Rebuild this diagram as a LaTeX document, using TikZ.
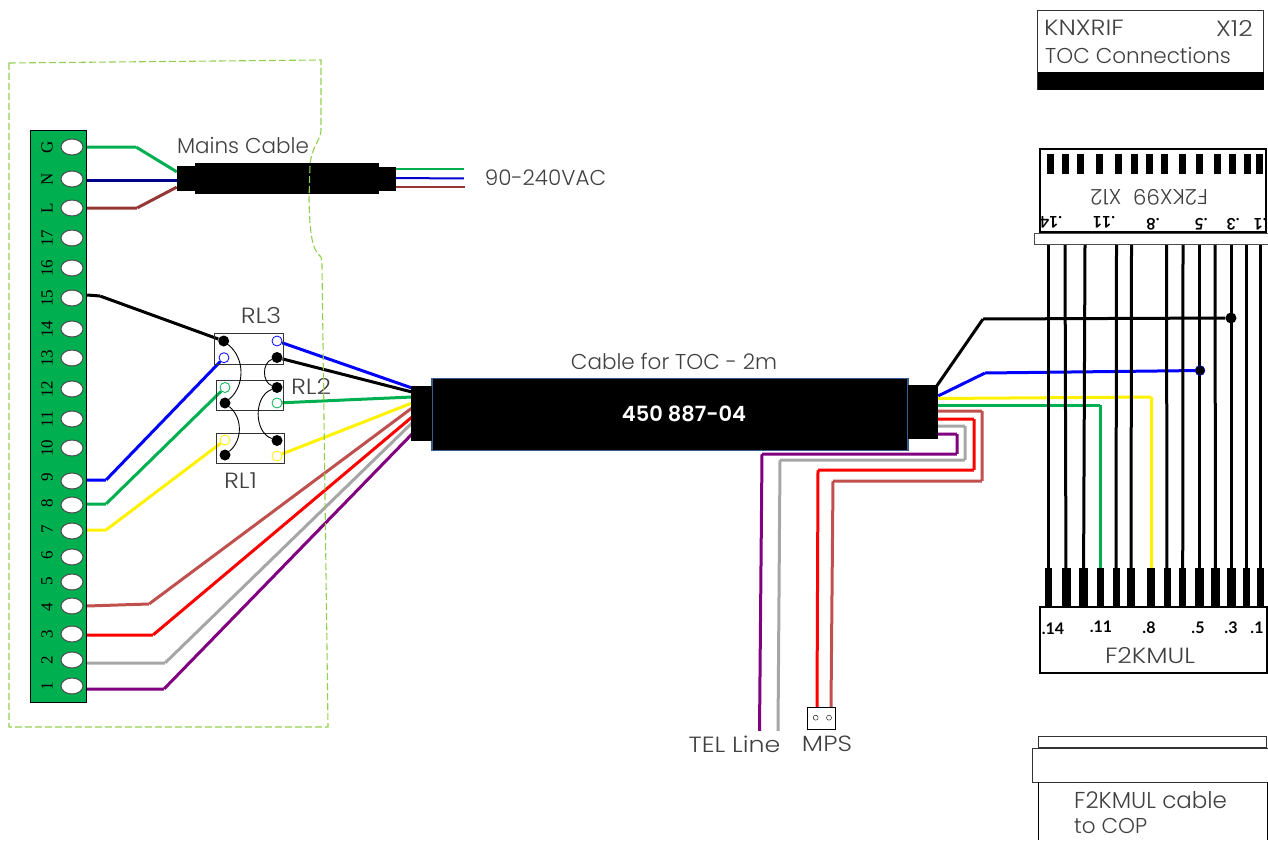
\documentclass[tikz,border=0pt]{standalone}
\usepackage{fontspec}
\setmainfont{Poppins Light}
\newfontfamily\capfont[FakeStretch=1.15]{Poppins Light}
\newfontfamily\termfont{Liberation Serif}
\newfontfamily\pinfont{Lato}
\usepackage{tikz}
\usetikzlibrary{shapes.geometric}
\pgfdeclarelayer{bg}
\pgfsetlayers{bg,main}
\definecolor{stripgreen}{HTML}{00B050}
\definecolor{wirebrown}{HTML}{953735}
\definecolor{wirerose}{HTML}{C0504D}
\definecolor{wirepurple}{HTML}{800080}
\definecolor{wiregray}{HTML}{A6A6A6}
\definecolor{outline}{HTML}{92D050}
\definecolor{sleeve}{HTML}{385D8A}
\definecolor{labelgray}{HTML}{404040}
\tikzset{empty/.style={draw=none, fill=none, minimum size=0mm, inner sep=0mm}}
\tikzset{hole/.style={draw=black!70, fill=white, ellipse, minimum width=22pt, minimum height=16pt, inner sep=0pt, line width=1pt}}
\tikzset{tnum/.style={rotate=90, inner sep=0pt, font=\termfont\fontsize{17}{17}\selectfont}}
\tikzset{txt/.style={inner sep=0pt, text=labelgray, font=\fontsize{21.5}{21.5}\selectfont}}
\tikzset{captxt/.style={inner sep=0pt, text=labelgray, font=\capfont\fontsize{22}{22}\selectfont}}
\tikzset{pinno/.style={inner sep=0pt, font=\pinfont\bfseries\fontsize{16}{16}\selectfont}}
\tikzset{wire/.style={line width=3pt}}
\tikzset{thinwire/.style={line width=2pt}}
\tikzset{pinblack/.style={circle, fill=black, minimum size=11pt, inner sep=0pt}}
\tikzset{pinopen/.style={circle, draw, fill=white, minimum size=10pt, inner sep=0pt, line width=0.8pt}}
\tikzset{relaybox/.style={draw=black!80, line width=1pt}}
\tikzset{blackpart/.style={fill=black}}
\tikzset{jack/.style={rectangle, fill=black, inner sep=0pt, minimum width=7pt}}

\begin{document}
\begin{tikzpicture}[x=1pt, y=-1pt]
    \useasboundingbox (0,0) rectangle (1268,840);

    % terminal strip
    \draw [fill=stripgreen, line width=1pt] (30.5,131) rectangle (86.5,702);
    \node (tG) at (72,147) [hole] {}; \node (nG) at (47,147) [tnum] {G};
    \node (tN) at (72,179) [hole] {}; \node (nN) at (47,179) [tnum] {N};
    \node (tL) at (72,208) [hole] {}; \node (nL) at (47,208) [tnum] {L};
    \node (t17) at (72,238) [hole] {}; \node (n17) at (47,238) [tnum] {17};
    \node (t16) at (72,268) [hole] {}; \node (n16) at (47,268) [tnum] {16};
    \node (t15) at (72,298) [hole] {}; \node (n15) at (47,298) [tnum] {15};
    \node (t14) at (72,329) [hole] {}; \node (n14) at (47,329) [tnum] {14};
    \node (t13) at (72,358) [hole] {}; \node (n13) at (47,358) [tnum] {13};
    \node (t12) at (72,389) [hole] {}; \node (n12) at (47,389) [tnum] {12};
    \node (t11) at (72,419) [hole] {}; \node (n11) at (47,419) [tnum] {11};
    \node (t10) at (72,448) [hole] {}; \node (n10) at (47,448) [tnum] {10};
    \node (t9) at (72,481) [hole] {}; \node (n9) at (47,477) [tnum] {9};
    \node (t8) at (72,505) [hole] {}; \node (n8) at (47,503) [tnum] {8};
    \node (t7) at (72,531) [hole] {}; \node (n7) at (47,529) [tnum] {7};
    \node (t6) at (72,557) [hole] {}; \node (n6) at (47,555) [tnum] {6};
    \node (t5) at (72,582) [hole] {}; \node (n5) at (47,581) [tnum] {5};
    \node (t4) at (72,606) [hole] {}; \node (n4) at (47,607) [tnum] {4};
    \node (t3) at (72,634) [hole] {}; \node (n3) at (47,634) [tnum] {3};
    \node (t2) at (72,660) [hole] {}; \node (n2) at (47,660) [tnum] {2};
    \node (t1) at (72,686) [hole] {}; \node (n1) at (47,686) [tnum] {1};

    % mains cable
    \node (lmains) at (243,146) [txt] {Mains Cable};
    \node (l90) at (545.5,178) [txt] {90-240VAC};
    \fill [blackpart] (177,166) rectangle (195,191);
    \fill [blackpart] (195,163) rectangle (379,194);
    \fill [blackpart] (379,167) rectangle (396,191);
    \node (mG) [empty] at (177,172) {};
    \node (mN) [empty] at (177,180) {};
    \node (mL) [empty] at (177,187) {};
    \node (oG) [empty] at (395,169) {};
    \node (oN) [empty] at (395,178) {};
    \node (oL) [empty] at (395,187) {};
    \node (eG) [empty] at (464,169) {};
    \node (eN) [empty] at (464,178.5) {};
    \node (eL) [empty] at (465,187) {};
    \node (sG) [empty] at (87,147) {};
    \node (sN) [empty] at (87,180) {};
    \node (sL) [empty] at (87,208) {};
    \node (kG) [empty] at (136,147) {};
    \node (kL) [empty] at (137,208) {};

    % relays
    \node (lRL3) at (261,316) [captxt] {RL3};
    \node (lRL2) at (311,386) [captxt] {RL2};
    \node (lRL1) at (240.5,481) [captxt] {RL1};
    \draw [relaybox] (214.7,333) rectangle (283,364);
    \draw [relaybox] (216,380.7) rectangle (283.7,410);
    \draw [relaybox] (216.7,433.7) rectangle (284.3,463.3);
    \node (r3a) at (223.7,341) [pinblack] {};
    \node (r3b) at (224,357.7) [pinopen, draw=blue] {};
    \node (r3c) at (277,341) [pinopen, draw=blue] {};
    \node (r3d) at (277,357.5) [pinblack] {};
    \node (r2a) at (225,387.5) [pinopen, draw=stripgreen] {};
    \node (r2b) at (225,403) [pinblack] {};
    \node (r2c) at (277,387.5) [pinblack] {};
    \node (r2d) at (277,403) [pinopen, draw=stripgreen] {};
    \node (r1a) at (225,440) [pinopen, draw=yellow] {};
    \node (r1b) at (225,455) [pinblack] {};
    \node (r1c) at (277,440.5) [pinblack] {};
    \node (r1d) at (277,456) [pinopen, draw=yellow] {};
    \draw [line width=0.9pt] (r3a) edge [bend left=50] (r2b);
    \draw [line width=0.9pt] (r2b) edge [bend left=50] (r1b);
    \draw [line width=0.9pt] (r3d) edge [bend right=70] (r2c);
    \draw [line width=0.9pt] (r2c) edge [bend right=70] (r1c);

    % cable for TOC
    \node (lcable) at (674,361) [txt] {Cable for TOC - 2m};
    \draw [blackpart, draw=sleeve, line width=1.5pt] (432,378.5) rectangle (908,450.5);
    \fill [blackpart] (411,386) rectangle (432,441);
    \fill [blackpart] (908,385) rectangle (938,439);
    \node (lpart) at (684,414) [inner sep=0pt, text=white, font=\fontsize{21}{21}\selectfont\bfseries] {450 887-04};

    \node (s15) [empty] at (87,295) {};
    \node (k15) [empty] at (100,296) {};
    \node (s9) [empty] at (87,480) {};
    \node (k9) [empty] at (106,480) {};
    \node (s8) [empty] at (87,504) {};
    \node (k8) [empty] at (106,504) {};
    \node (s7) [empty] at (87,530) {};
    \node (k7) [empty] at (106,530) {};
    \node (s4) [empty] at (87,606) {};
    \node (k4) [empty] at (149,604) {};
    \node (s3) [empty] at (87,635) {};
    \node (k3) [empty] at (153,635) {};
    \node (s2) [empty] at (87,663) {};
    \node (k2) [empty] at (165,663) {};
    \node (s1) [empty] at (87,689) {};
    \node (k1) [empty] at (164,689) {};
    \node (c1) [empty] at (412,388) {};
    \node (c2) [empty] at (412,392) {};
    \node (c3) [empty] at (412,397) {};
    \node (c4) [empty] at (412,403) {};
    \node (c5) [empty] at (412,408) {};
    \node (c6) [empty] at (412,417) {};
    \node (c7) [empty] at (412,423) {};
    \node (c8) [empty] at (412,434) {};

    % wires going to the right
    \node (d1) [empty] at (936,387) {};
    \node (d2) [empty] at (983,319) {};
    \node (dot1) at (1231,318) [circle, fill=black, minimum size=11pt, inner sep=0pt] {};
    \node (d3) [empty] at (938,396) {};
    \node (d4) [empty] at (985,373) {};
    \node (dot2) at (1200,370.5) [circle, draw=blue, fill=black, minimum size=10pt, inner sep=0pt] {};
    \node (d5) [empty] at (938,398.5) {};
    \node (d6) [empty] at (1151.5,397) {};
    \node (d7) [empty] at (1151.5,570) {};
    \node (d8) [empty] at (938,405) {};
    \node (d9) [empty] at (1100.5,405) {};
    \node (d10) [empty] at (1100.5,570) {};

    % wires going down
    \node (m1) [empty] at (938,411) {};
    \node (m2) [empty] at (982,411) {};
    \node (m3) [empty] at (982,481) {};
    \node (m4) [empty] at (833,481) {};
    \node (m5) [empty] at (831,707) {};
    \node (m6) [empty] at (938,419) {};
    \node (m7) [empty] at (974,419) {};
    \node (m8) [empty] at (974,470) {};
    \node (m9) [empty] at (818,470) {};
    \node (m10) [empty] at (817,707) {};
    \node (m11) [empty] at (938,426) {};
    \node (m12) [empty] at (965,426) {};
    \node (m13) [empty] at (965,460) {};
    \node (m14) [empty] at (780,460) {};
    \node (m15) [empty] at (778,731) {};
    \node (m16) [empty] at (938,434) {};
    \node (m17) [empty] at (957,434) {};
    \node (m18) [empty] at (957,454) {};
    \node (m19) [empty] at (762,454) {};
    \node (m20) [empty] at (759.5,731) {};

    \begin{pgfonlayer}{bg}
        \draw [wire, stripgreen] (sG) -- (kG) -- (mG);
        \draw [wire, blue!55!black] (sN) -- (mN);
        \draw [wire, wirebrown] (sL) -- (kL) -- (mL);
        \draw [thinwire, stripgreen] (oG) -- (eG);
        \draw [thinwire, blue!80!black] (oN) -- (eN);
        \draw [thinwire, wirebrown] (oL) -- (eL);

        \draw [wire, black] (s15) -- (k15) -- (r3a);
        \draw [wire, blue] (s9) -- (k9) -- (r3b);
        \draw [wire, stripgreen] (s8) -- (k8) -- (r2a);
        \draw [wire, yellow] (s7) -- (k7) -- (r1a);
        \draw [wire, wirerose] (s4) -- (k4) -- (c5);
        \draw [wire, red] (s3) -- (k3) -- (c6);
        \draw [wire, wiregray] (s2) -- (k2) -- (c7);
        \draw [wire, wirepurple] (s1) -- (k1) -- (c8);
        \draw [wire, blue] (r3c) -- (c1);
        \draw [wire, black] (r3d) -- (c2);
        \draw [wire, stripgreen] (r2d) -- (c3);
        \draw [wire, yellow] (r1d) -- (c4);

        \draw [wire, black] (d1) -- (d2) -- (dot1);
        \draw [wire, blue] (d3) -- (d4) -- (dot2);
        \draw [wire, yellow] (d5) -- (d6) -- (d7);
        \draw [wire, stripgreen] (d8) -- (d9) -- (d10);

        \draw [wire, wirerose] (m1) -- (m2) -- (m3) -- (m4) -- (m5);
        \draw [wire, red] (m6) -- (m7) -- (m8) -- (m9) -- (m10);
        \draw [wire, wiregray] (m11) -- (m12) -- (m13) -- (m14) -- (m15);
        \draw [wire, wirepurple] (m16) -- (m17) -- (m18) -- (m19) -- (m20);
    \end{pgfonlayer}

    % MPS plug
    \node (mps) at (821.5,718) [draw, line width=1pt, minimum width=28pt, minimum height=22pt, inner sep=0pt] {};
    \node (mps1) at (815.7,717.7) [circle, draw, minimum size=5pt, inner sep=0pt] {};
    \node (mps2) at (829,717.7) [circle, draw, minimum size=5pt, inner sep=0pt] {};
    \node (ltel) at (734.5,744) [captxt] {TEL Line};
    \node (lmps) at (827,744) [captxt] {MPS};

    % KNXRIF title
    \draw [draw=black!80, line width=1pt] (1037.5,11) rectangle (1263.5,90);
    \fill [blackpart] (1037.5,72) rectangle (1263.5,90);
    \node (lknx) at (1044,28) [captxt, anchor=west] {KNXRIF};
    \node (lx12) at (1253,28) [captxt, anchor=east] {X12};
    \node (ltoc) at (1045,56) [txt, anchor=west] {TOC Connections};

    % F2KX99 connector
    \draw [line width=2pt] (1039.5,148.5) rectangle (1266,232);
    \node (hA) at (1050,164) [jack, minimum height=20pt] {};
    \node (hB) at (1065,164) [jack, minimum height=20pt] {};
    \node (hC) at (1080.3,164) [jack, minimum height=20pt] {};
    \node (hD) at (1099.3,164) [jack, minimum height=20pt] {};
    \node (hE) at (1118.3,164) [jack, minimum height=20pt] {};
    \node (hF) at (1134.3,164) [jack, minimum height=20pt] {};
    \node (hG) at (1149.3,164) [jack, minimum height=20pt] {};
    \node (hH) at (1164.3,164) [jack, minimum height=20pt] {};
    \node (hI) at (1182.3,164) [jack, minimum height=20pt] {};
    \node (hJ) at (1199.3,164) [jack, minimum height=20pt] {};
    \node (hK) at (1217.3,164) [jack, minimum height=20pt] {};
    \node (hL) at (1232.3,164) [jack, minimum height=20pt] {};
    \node (hM) at (1247.7,164) [jack, minimum height=20pt] {};
    \node (hN) at (1259.3,164) [jack, minimum height=20pt] {};
    \node (lf2k) at (1149,197) [txt, rotate=180] {F2KX99\ \ X12};
    \node (q14) at (1051,222) [pinno, rotate=180] {.14};
    \node (q11) at (1104,222) [pinno, rotate=180] {.11};
    \node (q8) at (1153,224) [pinno, rotate=180] {.8};
    \node (q5) at (1201,224) [pinno, rotate=180] {.5};
    \node (q3) at (1233,224) [pinno, rotate=180] {.3};
    \node (q1) at (1260,224) [pinno, rotate=180] {.1};
    \draw [draw=black!70, fill=white, line width=1pt] (1034.5,233.5) rectangle (1268,244);

    % wires between the connectors
    \node (a1) [empty] at (1048.5,244) {};  \node (b1) at (1048.5,587.5) [jack, minimum height=39pt] {};
    \node (a2) [empty] at (1065,244) {};    \node (b2) at (1066,587.5) [jack, minimum width=9pt, minimum height=39pt] {};
    \node (a3) [empty] at (1085,244) {};    \node (b3) at (1083.5,587.5) [jack, minimum width=9pt, minimum height=39pt] {};
    \node (b4) at (1100.5,587.5) [jack, minimum height=39pt] {};
    \node (a5) [empty] at (1116.5,244) {};  \node (b5) at (1116,587.5) [jack, minimum height=39pt] {};
    \node (a6) [empty] at (1131.5,244) {};  \node (b6) at (1131,587.5) [jack, minimum width=8pt, minimum height=39pt] {};
    \node (b7) at (1151,587.5) [jack, minimum width=8pt, minimum height=39pt] {};
    \node (a8) [empty] at (1166.5,244) {};  \node (b8) at (1167,587.5) [jack, minimum height=39pt] {};
    \node (a9) [empty] at (1183,244) {};    \node (b9) at (1182.7,587.5) [jack, minimum height=39pt] {};
    \node (a10) [empty] at (1199.5,244) {}; \node (b10) at (1199.5,587.5) [jack, minimum width=9pt, minimum height=39pt] {};
    \node (a11) [empty] at (1215,244) {};   \node (b11) at (1215.5,587.5) [jack, minimum width=9pt, minimum height=39pt] {};
    \node (a12) [empty] at (1231,244) {};   \node (b12) at (1231,587.5) [jack, minimum width=9pt, minimum height=39pt] {};
    \node (a13) [empty] at (1246.7,244) {}; \node (b13) at (1246.7,587.5) [jack, minimum height=39pt] {};
    \node (a14) [empty] at (1260.5,244) {}; \node (b14) at (1260.5,587.5) [jack, minimum height=39pt] {};

    \begin{pgfonlayer}{bg}
        \draw [wire, black] (a1) edge (b1);
        \draw [wire, black] (a2) edge (b2);
        \draw [wire, black] (a3) edge (b3);
        \draw [wire, black] (a5) edge (b5);
        \draw [wire, black] (a6) edge (b6);
        \draw [wire, black] (a8) edge (b8);
        \draw [wire, black] (a9) edge (b9);
        \draw [wire, black] (a10) edge (b10);
        \draw [wire, black] (a11) edge (b11);
        \draw [wire, black] (a12) edge (b12);
        \draw [wire, black] (a13) edge (b13);
        \draw [wire, black] (a14) edge (b14);
    \end{pgfonlayer}

    % F2KMUL connector
    \draw [line width=1.5pt] (1040,607) rectangle (1267,673);
    \node (w14) at (1053,629) [pinno] {.14};
    \node (w11) at (1101,627) [pinno] {.11};
    \node (w8) at (1149,628) [pinno] {.8};
    \node (w5) at (1198,628) [pinno] {.5};
    \node (w3) at (1231,628) [pinno] {.3};
    \node (w1) at (1257,628) [pinno] {.1};
    \node (lmul) at (1150,656) [captxt] {F2KMUL};

    % cable to COP
    \draw [draw=black!80, line width=1pt] (1038.7,736) rectangle (1266,747);
    \draw [draw=black!80, line width=1pt] (1032.5,748) rectangle (1268,782);
    \node (y1) [empty] at (1038,782) {};
    \node (y2) [empty] at (1038,840) {};
    \node (y3) [empty] at (1267,782) {};
    \node (y4) [empty] at (1267,840) {};
    \draw [line width=1pt] (y1) edge (y2);
    \draw [line width=1pt] (y3) edge (y4);
    \node (lcop1) at (1074,800) [txt, anchor=west, font=\fontsize{23}{23}\selectfont] {F2KMUL cable};
    \node (lcop2) at (1074,826) [txt, anchor=west] {to COP};

    % outline of the box
    \draw [outline, line width=1.1pt, dash pattern=on 7pt off 3pt] (9,63) -- (321,60) -- (321,130)
        .. controls (321,140) and (312,145) .. (310,165) -- (309,200)
        .. controls (310,235) and (312,250) .. (321,257) -- (322,265) -- (328,727) -- (9,727) -- cycle;
\end{tikzpicture}
\end{document}
